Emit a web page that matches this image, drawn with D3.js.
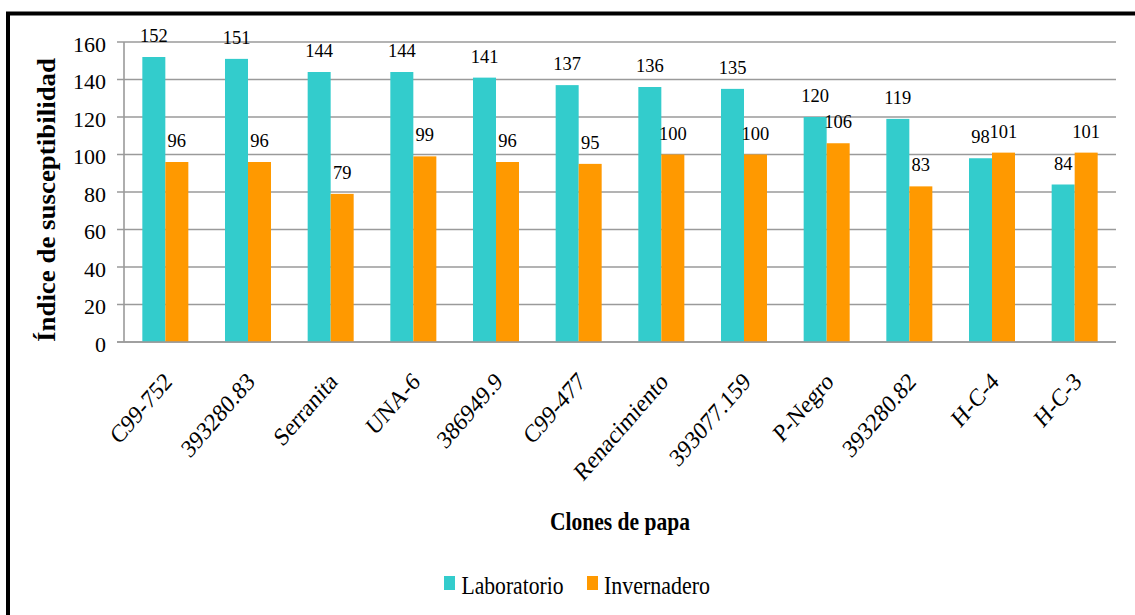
<!DOCTYPE html>
<html>
<head>
<meta charset="utf-8">
<script src="https://cdn.jsdelivr.net/npm/d3@7"></script>
<style>
  html, body { margin: 0; padding: 0; background: #fff; }
  svg { display: block; }
</style>
</head>
<body>
<svg id="chart" width="1135" height="615" font-family="'Liberation Serif', 'DejaVu Serif', serif"></svg>
<script>
// Susceptibility index per potato clone, lab vs greenhouse
const clones = ["C99-752", "393280.83", "Serranita", "UNA-6", "386949.9", "C99-477",
                "Renacimiento", "393077.159", "P-Negro", "393280.82", "H-C-4", "H-C-3"];
const laboratorio = [152, 151, 144, 144, 141, 137, 136, 135, 120, 119, 98, 84];
const invernadero = [96, 96, 79, 99, 96, 95, 100, 100, 106, 83, 101, 101];
const seriesNames = ["Laboratorio", "Invernadero"];
const seriesColors = ["#33CCCC", "#FF9900"];
const yTicks = [0, 20, 40, 60, 80, 100, 120, 140, 160];

const svg = d3.select("#chart");

// outer frame
svg.append("rect")
  .attr("x", 8).attr("y", 13.5)
  .attr("width", 1200).attr("height", 700)
  .attr("fill", "none").attr("stroke", "#000").attr("stroke-width", 4);

const plot = { left: 124, right: 1116, top: 42, bottom: 342 };

const y = d3.scaleLinear().domain([0, 160]).range([plot.bottom, plot.top]);
const x = d3.scaleBand().domain(clones).range([plot.left, plot.right])
  .paddingInner(0.4435).paddingOuter(0.22175);
const xs = d3.scaleBand().domain(seriesNames).range([0, x.bandwidth()]);

// gridlines
svg.append("g")
  .selectAll("line").data(yTicks).join("line")
  .attr("x1", plot.left - 7).attr("x2", plot.right)
  .attr("y1", d => y(d)).attr("y2", d => y(d))
  .attr("stroke", "#9a9a9a").attr("stroke-width", 1.6);

// vertical axis line
svg.append("line")
  .attr("x1", plot.left).attr("x2", plot.left)
  .attr("y1", y(160)).attr("y2", y(0))
  .attr("stroke", "#9a9a9a").attr("stroke-width", 1.6);

// y tick labels
svg.append("g")
  .selectAll("text").data(yTicks).join("text")
  .attr("x", 106).attr("y", d => y(d) + 9.5)
  .attr("text-anchor", "end")
  .attr("font-size", 22)
  .text(d => d);

const rows = clones.map((c, i) => ({ clone: c, values: [laboratorio[i], invernadero[i]] }));

const groups = svg.append("g").selectAll("g").data(rows).join("g")
  .attr("transform", d => `translate(${x(d.clone)},0)`);

groups.selectAll("rect")
  .data(d => d.values.map((v, k) => ({ key: seriesNames[k], value: v, k })))
  .join("rect")
  .attr("x", d => xs(d.key))
  .attr("width", xs.bandwidth())
  .attr("y", d => y(d.value))
  .attr("height", d => y(0) - y(d.value))
  .attr("fill", d => seriesColors[d.k]);

// value labels above each bar
groups.selectAll("text")
  .data(d => d.values.map((v, k) => ({ key: seriesNames[k], value: v })))
  .join("text")
  .attr("x", d => xs(d.key) + xs.bandwidth() / 2)
  .attr("y", d => y(d.value) - 15)
  .attr("text-anchor", "middle")
  .attr("font-size", 18.5)
  .text(d => d.value);

// redraw baseline over bar bottoms
svg.append("line")
  .attr("x1", plot.left - 7).attr("x2", plot.right)
  .attr("y1", y(0)).attr("y2", y(0))
  .attr("stroke", "#9a9a9a").attr("stroke-width", 1.6);

// rotated category labels (slightly tall glyphs)
svg.append("g")
  .selectAll("text").data(clones).join("text")
  .attr("transform", d => `translate(${x(d) + x.bandwidth() / 2 + 8},383) scale(1,1.15) rotate(-45)`)
  .attr("text-anchor", "end")
  .attr("font-size", 22)
  .text(d => d);

// axis titles
svg.append("text")
  .attr("transform", "translate(55,200) rotate(-90)")
  .attr("text-anchor", "middle")
  .attr("font-size", 25).attr("font-weight", "bold")
  .attr("textLength", 284).attr("lengthAdjust", "spacingAndGlyphs")
  .text("Índice de susceptibilidad");

svg.append("text")
  .attr("x", 620).attr("y", 530)
  .attr("text-anchor", "middle")
  .attr("font-size", 25).attr("font-weight", "bold")
  .attr("textLength", 140).attr("lengthAdjust", "spacingAndGlyphs")
  .text("Clones de papa");

// legend
const legendItems = [
  { name: seriesNames[0], color: seriesColors[0], sx: 444, tx: 461.5, w: 102 },
  { name: seriesNames[1], color: seriesColors[1], sx: 587, tx: 604, w: 106 }
];
const lg = svg.append("g");
lg.selectAll("rect").data(legendItems).join("rect")
  .attr("x", d => d.sx).attr("y", 576)
  .attr("width", 11).attr("height", 14)
  .attr("fill", d => d.color);
lg.selectAll("text").data(legendItems).join("text")
  .attr("x", d => d.tx).attr("y", 593.5)
  .attr("font-size", 25)
  .attr("textLength", d => d.w).attr("lengthAdjust", "spacingAndGlyphs")
  .text(d => d.name);
</script>
</body>
</html>
